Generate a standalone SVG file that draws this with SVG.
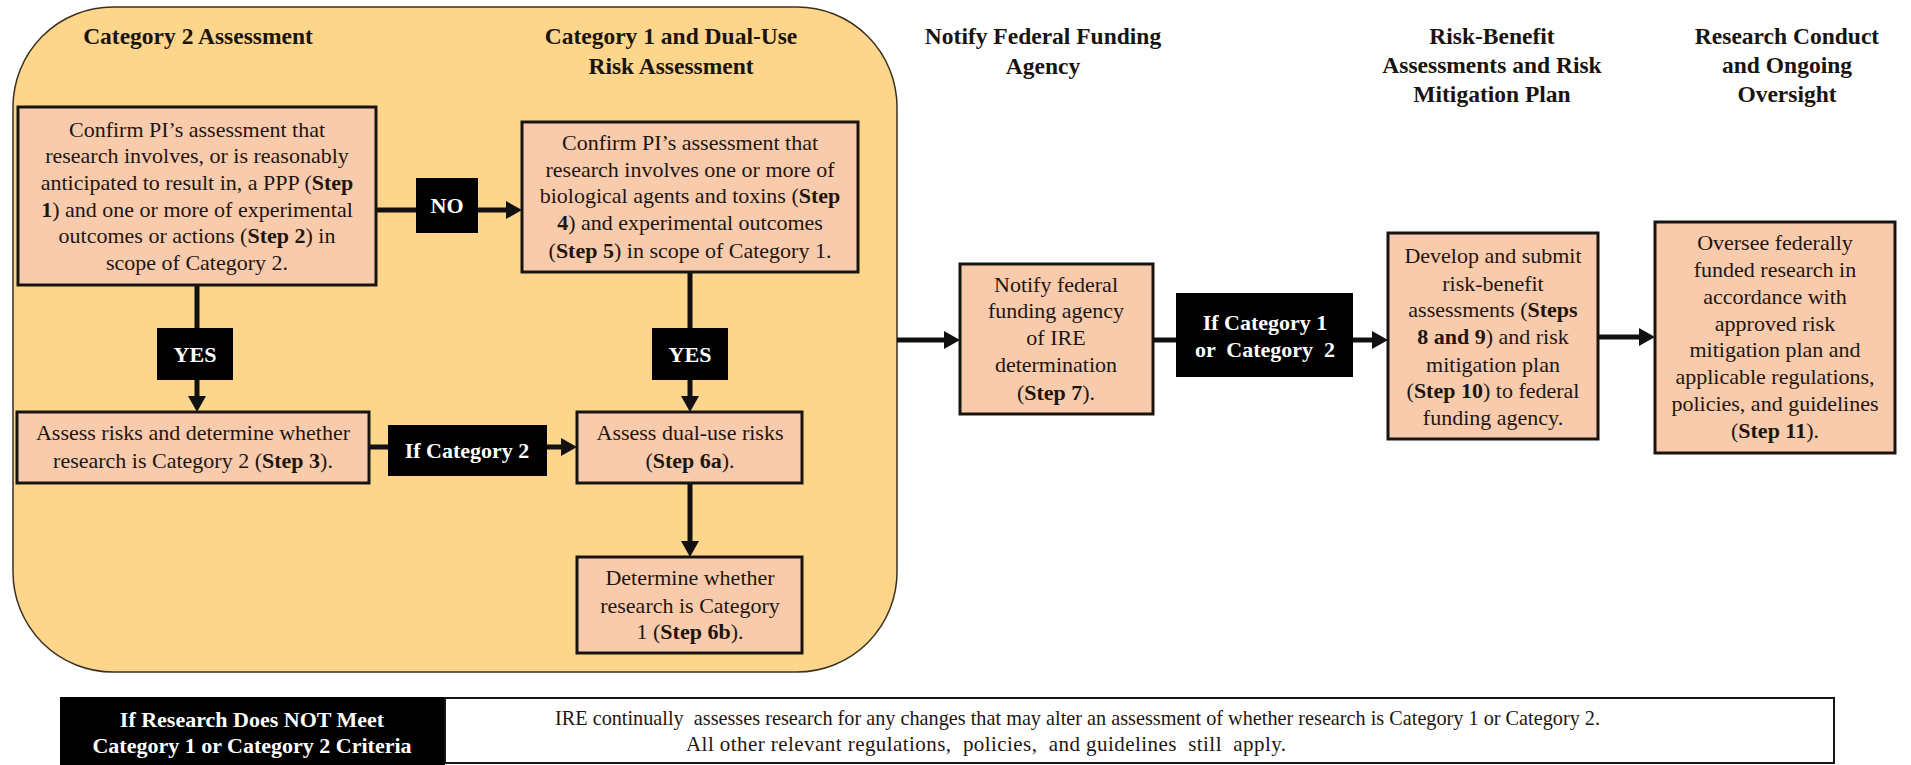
<svg xmlns="http://www.w3.org/2000/svg" width="1911" height="765" viewBox="0 0 1911 765">
  <defs>
    <marker id="arrow" markerUnits="userSpaceOnUse" viewBox="0 0 16 18" refX="4" refY="9" markerWidth="16" markerHeight="18" orient="auto">
      <path d="M0,0 L16,9 L0,18 z" fill="#111"/>
    </marker>
    <style>
      .hdr { font-family: "Liberation Serif", "Times New Roman", serif; font-weight: bold; font-size: 23.5px; fill: #1a1410; text-anchor: middle; }
      .box { fill: #F8CBAD; stroke: #1a1410; stroke-width: 3; }
      .txt { font-family: "Liberation Serif", "Times New Roman", serif; font-size: 22px; fill: #1f1510; text-anchor: middle; }
      .b { font-weight: bold; }
      .lbl { fill: #000; }
      .lt { font-family: "Liberation Serif", "Times New Roman", serif; font-weight: bold; font-size: 22px; fill: #fff; text-anchor: middle; }
      .conn { stroke: #111; stroke-width: 5; fill: none; }
      .note { font-family: "Liberation Serif", "Times New Roman", serif; font-size: 21px; fill: #1f1510; }
    </style>
  </defs>

  <rect width="1911" height="765" fill="#ffffff"/>

  <!-- container -->
  <g id="container">
    <rect x="13" y="7" width="884" height="665" rx="100" ry="100" fill="#FDD68B" stroke="#3a3020" stroke-width="1.5"/>
  </g>

  <!-- headers -->
  <g id="headers">
    <text class="hdr" x="198" y="44">Category 2 Assessment</text>
    <text class="hdr" x="671" y="44">Category 1 and Dual-Use</text>
    <text class="hdr" x="671" y="74">Risk Assessment</text>
    <text class="hdr" x="1043" y="44">Notify Federal Funding</text>
    <text class="hdr" x="1043" y="74">Agency</text>
    <text class="hdr" x="1492" y="44">Risk-Benefit</text>
    <text class="hdr" x="1492" y="73">Assessments and Risk</text>
    <text class="hdr" x="1492" y="102">Mitigation Plan</text>
    <text class="hdr" x="1787" y="44">Research Conduct</text>
    <text class="hdr" x="1787" y="73">and Ongoing</text>
    <text class="hdr" x="1787" y="102">Oversight</text>
  </g>

  <!-- connectors -->
  <g id="connectors">
    <line class="conn" x1="376" y1="210" x2="510" y2="210" marker-end="url(#arrow)"/>
    <line class="conn" x1="197" y1="285" x2="197" y2="400" marker-end="url(#arrow)"/>
    <line class="conn" x1="690" y1="272" x2="690" y2="400" marker-end="url(#arrow)"/>
    <line class="conn" x1="369" y1="447" x2="565" y2="447" marker-end="url(#arrow)"/>
    <line class="conn" x1="690" y1="483" x2="690" y2="545" marker-end="url(#arrow)"/>
    <line class="conn" x1="897" y1="340" x2="948" y2="340" marker-end="url(#arrow)"/>
    <line class="conn" x1="1153" y1="340" x2="1376" y2="340" marker-end="url(#arrow)"/>
    <line class="conn" x1="1598" y1="337" x2="1643" y2="337" marker-end="url(#arrow)"/>
  </g>

  <!-- connector labels -->
  <g id="label-no">
    <rect class="lbl" x="416" y="178" width="62" height="55"/>
    <text class="lt" x="447" y="213">NO</text>
  </g>
  <g id="label-yes-1">
    <rect class="lbl" x="157" y="328" width="76" height="52"/>
    <text class="lt" x="195" y="362">YES</text>
  </g>
  <g id="label-yes-2">
    <rect class="lbl" x="652" y="328" width="76" height="52"/>
    <text class="lt" x="690" y="362">YES</text>
  </g>
  <g id="label-if-cat2">
    <rect class="lbl" x="388" y="425" width="159" height="51"/>
    <text class="lt" x="467" y="458">If Category 2</text>
  </g>
  <g id="label-if-cat1-or-2">
    <rect class="lbl" x="1176" y="293" width="177" height="84"/>
    <text class="lt" x="1265" y="330">If Category 1</text>
    <text class="lt" x="1265" y="357" xml:space="preserve">or  Category  2</text>
  </g>

  <!-- nodes -->
  <g id="step1-2">
    <rect class="box" x="18" y="107" width="358" height="178"/>
    <text class="txt" x="197" y="137">Confirm PI’s assessment that</text>
    <text class="txt" x="197" y="163">research involves, or is reasonably</text>
    <text class="txt" x="197" y="190">anticipated to result in, a PPP (<tspan class="b">Step</tspan></text>
    <text class="txt" x="197" y="217"><tspan class="b">1</tspan>) and one or more of experimental</text>
    <text class="txt" x="197" y="243">outcomes or actions (<tspan class="b">Step 2</tspan>) in</text>
    <text class="txt" x="197" y="270">scope of Category 2.</text>
  </g>

  <g id="step4-5">
    <rect class="box" x="522" y="122" width="336" height="150"/>
    <text class="txt" x="690" y="150">Confirm PI’s assessment that</text>
    <text class="txt" x="690" y="177">research involves one or more of</text>
    <text class="txt" x="690" y="203">biological agents and toxins (<tspan class="b">Step</tspan></text>
    <text class="txt" x="690" y="230"><tspan class="b">4</tspan>) and experimental outcomes</text>
    <text class="txt" x="690" y="258">(<tspan class="b">Step 5</tspan>) in scope of Category 1.</text>
  </g>

  <g id="step3">
    <rect class="box" x="17" y="412" width="352" height="71"/>
    <text class="txt" x="193" y="440">Assess risks and determine whether</text>
    <text class="txt" x="193" y="468">research is Category 2 (<tspan class="b">Step 3</tspan>).</text>
  </g>

  <g id="step6a">
    <rect class="box" x="577" y="412" width="225" height="71"/>
    <text class="txt" x="690" y="440">Assess dual-use risks</text>
    <text class="txt" x="690" y="468">(<tspan class="b">Step 6a</tspan>).</text>
  </g>

  <g id="step6b">
    <rect class="box" x="577" y="557" width="225" height="96"/>
    <text class="txt" x="690" y="585">Determine whether</text>
    <text class="txt" x="690" y="613">research is Category</text>
    <text class="txt" x="690" y="639">1 (<tspan class="b">Step 6b</tspan>).</text>
  </g>

  <g id="step7">
    <rect class="box" x="960" y="264" width="193" height="150"/>
    <text class="txt" x="1056" y="292">Notify federal</text>
    <text class="txt" x="1056" y="318">funding agency</text>
    <text class="txt" x="1056" y="345">of IRE</text>
    <text class="txt" x="1056" y="372">determination</text>
    <text class="txt" x="1056" y="400">(<tspan class="b">Step 7</tspan>).</text>
  </g>

  <g id="step8-10">
    <rect class="box" x="1388" y="233" width="210" height="206"/>
    <text class="txt" x="1493" y="263">Develop and submit</text>
    <text class="txt" x="1493" y="291">risk-benefit</text>
    <text class="txt" x="1493" y="317">assessments (<tspan class="b">Steps</tspan></text>
    <text class="txt" x="1493" y="344"><tspan class="b">8 and 9</tspan>) and risk</text>
    <text class="txt" x="1493" y="372">mitigation plan</text>
    <text class="txt" x="1493" y="398">(<tspan class="b">Step 10</tspan>) to federal</text>
    <text class="txt" x="1493" y="425">funding agency.</text>
  </g>

  <g id="step11">
    <rect class="box" x="1655" y="222" width="240" height="231"/>
    <text class="txt" x="1775" y="250">Oversee federally</text>
    <text class="txt" x="1775" y="277">funded research in</text>
    <text class="txt" x="1775" y="304">accordance with</text>
    <text class="txt" x="1775" y="331">approved risk</text>
    <text class="txt" x="1775" y="357">mitigation plan and</text>
    <text class="txt" x="1775" y="384">applicable regulations,</text>
    <text class="txt" x="1775" y="411">policies, and guidelines</text>
    <text class="txt" x="1775" y="438">(<tspan class="b">Step 11</tspan>).</text>
  </g>

  <!-- bottom note -->
  <g id="not-met">
    <rect x="60" y="697" width="385" height="68" fill="#000"/>
    <text class="lt" x="252" y="727" font-size="22">If Research Does NOT Meet</text>
    <text class="lt" x="252" y="753" font-size="22">Category 1 or Category 2 Criteria</text>
  </g>
  <g id="ongoing-note">
    <rect x="445" y="698" width="1389" height="65" fill="#fff" stroke="#1a1410" stroke-width="2"/>
    <text class="note" x="555" y="725" textLength="1045" lengthAdjust="spacingAndGlyphs" xml:space="preserve">IRE continually  assesses research for any changes that may alter an assessment of whether research is Category 1 or Category 2.</text>
    <text class="note" x="686" y="751" textLength="600" lengthAdjust="spacing" xml:space="preserve">All other relevant regulations,  policies,  and guidelines  still  apply.</text>
  </g>
</svg>
